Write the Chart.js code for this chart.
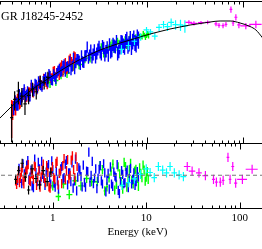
<!DOCTYPE html>
<html>
<head>
<meta charset="utf-8">
<title>IGR J18245-2452 spectrum</title>
<script src="https://cdn.jsdelivr.net/npm/chart.js@4.4.1/dist/chart.umd.min.js"></script>
<style>
  html, body { margin: 0; padding: 0; background: #fff; }
  #wrap { position: relative; width: 262px; height: 249px; overflow: hidden; }
  #specChart { position: absolute; left: -20px; top: 0; }
  #resChart { position: absolute; left: -20px; top: 142px; }
</style>
</head>
<body>
<div id="wrap">
  <canvas id="specChart" width="315" height="144"></canvas>
  <canvas id="resChart" width="315" height="107"></canvas>
</div>
<script>
// Spectrum of the source.
// Energies in keV, flux in arbitrary E^2 N(E) units, residuals in sigma.

var sourceName = "GR J18245-2452";
var xTickLabels = ["1", "10", "100"];

// best fit model (cutoff power law)
var modelE = [0.25, 0.303, 0.385, 0.489, 0.621, 0.788, 1.0, 1.27, 1.61, 2.04, 2.6, 3.3, 4.19, 5.32, 6.75, 8.57, 10.9, 13.8, 17.5, 22.2, 28.3, 35.9, 45.6, 57.9, 73.5, 93.3, 118.5, 136, 157, 175];
var modelF = [0.0173, 0.0225, 0.0311, 0.0417, 0.054, 0.0678, 0.0837, 0.1033, 0.1256, 0.150, 0.176, 0.204, 0.229, 0.256, 0.282, 0.311, 0.343, 0.372, 0.403, 0.430, 0.459, 0.482, 0.506, 0.523, 0.523, 0.490, 0.437, 0.391, 0.311, 0.255];

// black
var blackE = [0.40, 0.43, 0.47, 0.51, 0.55, 0.60, 0.66, 0.72, 0.79, 0.87, 0.95];
var blackF = [0.0228, 0.0411, 0.0540, 0.0458, 0.0355, 0.0470, 0.0574, 0.0527, 0.0746, 0.0706, 0.0841];
var blackErr = [0.55, 0.30, 0.35, 0.30, 0.30, 0.25, 0.22, 0.22, 0.20, 0.20, 0.20];
var blackRes = [-0.9, 1.0, 2.6, -0.4, -3.2, 1.4, -0.7, -2.1, 1.0, -1.4, 0.7];

// red
var redE = [0.40, 0.41, 0.42, 0.43, 0.44, 0.45, 0.46, 0.47, 0.48, 0.49, 0.50, 0.515, 0.53, 0.545, 0.56, 0.575, 0.59, 0.605, 0.62, 0.635, 0.65, 0.67, 0.69, 0.71, 0.73, 0.75, 0.77, 0.79, 0.81, 0.835, 0.86, 0.885, 0.91, 0.935, 0.96, 0.99, 1.02, 1.05, 1.08, 1.11, 1.14, 1.175, 1.21, 1.245, 1.28, 1.32, 1.36, 1.40, 1.44, 1.485, 1.53, 1.575, 1.62, 1.67, 1.72, 1.77, 1.82];
var redF = [0.0261, 0.0301, 0.0318, 0.0372, 0.0313, 0.0369, 0.0408, 0.0431, 0.0366, 0.0377, 0.0415, 0.0463, 0.0491, 0.0525, 0.0448, 0.0460, 0.0520, 0.0530, 0.0513, 0.0609, 0.0619, 0.0514, 0.0584, 0.0646, 0.0569, 0.0634, 0.0703, 0.0764, 0.0667, 0.0656, 0.0822, 0.0776, 0.0725, 0.0675, 0.0841, 0.0912, 0.0825, 0.0833, 0.1030, 0.1060, 0.0862, 0.0982, 0.1035, 0.0918, 0.1175, 0.1264, 0.1036, 0.1173, 0.1345, 0.1121, 0.1200, 0.1442, 0.1537, 0.1370, 0.1267, 0.1631, 0.1587];
var redErr = [0.55, 0.30, 0.24, 0.22, 0.22, 0.21, 0.20, 0.20, 0.19, 0.19, 0.18, 0.18, 0.18, 0.17, 0.17, 0.17, 0.16, 0.16, 0.16, 0.16, 0.16, 0.15, 0.15, 0.15, 0.15, 0.15, 0.15, 0.15, 0.15, 0.15, 0.15, 0.15, 0.15, 0.15, 0.15, 0.15, 0.15, 0.15, 0.15, 0.15, 0.15, 0.16, 0.16, 0.16, 0.16, 0.16, 0.17, 0.17, 0.17, 0.17, 0.18, 0.18, 0.18, 0.19, 0.19, 0.20, 0.20];
var redRes = [-1.2, -2.0, -0.7, 0.8, -1.6, -0.5, 0.7, 1.6, -1.2, -1.9, -0.4, 0.9, 1.2, 2.3, -1.1, -1.4, 0.4, 0.2, -0.9, 2.0, 1.8, -2.2, -0.4, 1.0, -2.6, -0.4, 1.1, 2.4, -0.7, -1.6, 2.1, 0.6, -2.5, -2.8, 0.7, 1.9, -0.5, -0.9, 2.6, 3.0, -2.1, 0.4, 0.9, -1.8, 2.1, 3.6, -0.9, 1.0, 3.4, -0.8, 0.0, 3.3, 4.2, 1.2, -0.5, 4.0, 1.9];

// blue
var blueE = [0.42, 0.435, 0.45, 0.465, 0.48, 0.495, 0.51, 0.525, 0.54, 0.555, 0.57, 0.585, 0.60, 0.62, 0.64, 0.66, 0.68, 0.70, 0.72, 0.74, 0.76, 0.78, 0.80, 0.825, 0.85, 0.875, 0.90, 0.925, 0.95, 0.975, 1.00, 1.03, 1.06, 1.09, 1.12, 1.15, 1.18, 1.215, 1.25, 1.285, 1.32, 1.36, 1.40, 1.44, 1.48, 1.52, 1.56, 1.605, 1.65, 1.70, 1.75, 1.80, 1.85, 1.90, 1.95, 2.005, 2.06, 2.12, 2.18, 2.24, 2.30, 2.365, 2.43, 2.50, 2.57, 2.645, 2.72, 2.80, 2.88, 2.965, 3.05, 3.135, 3.22, 3.31, 3.40, 3.50, 3.60, 3.70, 3.80, 3.91, 4.02, 4.135, 4.25, 4.375, 4.50, 4.625, 4.75, 4.885, 5.02, 5.16, 5.30, 5.45, 5.60, 5.76, 5.92, 6.085, 6.25, 6.425, 6.60, 6.79, 6.98, 7.18, 7.38, 7.59, 7.80, 8.025, 8.25];
var blueF = [0.0318, 0.0390, 0.0359, 0.0356, 0.0480, 0.0429, 0.0458, 0.0502, 0.0567, 0.0456, 0.0482, 0.0536, 0.0454, 0.0464, 0.0667, 0.0591, 0.0543, 0.0693, 0.0670, 0.0595, 0.0753, 0.0679, 0.0660, 0.0627, 0.0756, 0.0811, 0.0855, 0.0762, 0.0721, 0.0951, 0.0887, 0.0783, 0.0766, 0.0944, 0.0868, 0.0798, 0.0985, 0.1065, 0.1122, 0.1001, 0.1038, 0.1232, 0.1299, 0.1020, 0.1205, 0.1226, 0.1122, 0.1425, 0.1088, 0.1224, 0.1596, 0.1119, 0.1362, 0.1538, 0.1537, 0.1456, 0.1284, 0.1716, 0.1413, 0.1384, 0.1712, 0.1730, 0.2282, 0.1590, 0.1760, 0.2075, 0.1610, 0.1797, 0.2068, 0.1626, 0.1853, 0.2115, 0.2312, 0.1918, 0.1789, 0.2379, 0.2215, 0.1752, 0.2006, 0.2256, 0.1747, 0.2483, 0.1932, 0.2039, 0.2502, 0.2366, 0.2299, 0.2750, 0.1868, 0.2000, 0.2253, 0.2725, 0.2672, 0.2401, 0.2278, 0.2789, 0.3003, 0.2374, 0.2567, 0.3045, 0.2288, 0.2759, 0.3077, 0.2627, 0.2550, 0.3162, 0.2917];
var blueErr = [0.22, 0.21, 0.21, 0.20, 0.20, 0.20, 0.19, 0.19, 0.19, 0.18, 0.18, 0.18,
  0.17, 0.17, 0.17, 0.17, 0.16, 0.16, 0.16, 0.16, 0.16, 0.16, 0.16, 0.16, 0.16, 0.16, 0.16, 0.16, 0.16, 0.16, 0.16,
  0.16, 0.16, 0.16, 0.16, 0.16, 0.16, 0.16, 0.16, 0.16, 0.16, 0.16, 0.16, 0.16, 0.16, 0.16, 0.16, 0.17, 0.17, 0.17, 0.17, 0.17, 0.17, 0.17, 0.17,
  0.17, 0.17, 0.18, 0.18, 0.18, 0.18, 0.18, 0.18, 0.18, 0.18, 0.18, 0.18, 0.19, 0.19, 0.19, 0.19, 0.19, 0.19, 0.19, 0.19, 0.19, 0.20, 0.20, 0.20, 0.20,
  0.20, 0.20, 0.20, 0.21, 0.21, 0.21, 0.21, 0.21, 0.22, 0.22, 0.22, 0.22, 0.22, 0.23, 0.23,
  0.23, 0.23, 0.24, 0.24, 0.24, 0.24, 0.25, 0.25, 0.25, 0.26, 0.26, 0.27];
var blueRes = [-1.1, 1.5, -0.7, -1.8, 2.5, 0.3, 0.7, 2.2, 3.2, -0.9, -0.4, 1.1, -2.3, -2.7, 3.5, 0.6, -1.4, 2.8, 1.4, -1.3, 3.0, 0.2, -0.7, -2.2, 0.7, 1.7, 2.3, -0.5, -1.9, 3.1, 1.2, -1.7, -2.6, 0.9, -1.2, -3.0, 0.4, 1.4, 1.9, -0.8, -0.5, 2.4, 3.2, -2.1, 0.5, 0.5, -1.4, 2.7, -2.8, -1.2, 3.5, -3.4, -0.4, 1.6, 1.1, -0.3, -2.5, 2.2, -1.6, -2.6, 0.9, 0.8, 5.0, -1.5, 0.0, 3.0, -1.8, -0.6, 1.4, -2.9, -0.7, 1.3, 2.1, -1.2, -1.9, 2.5, 0.5, -3.6, -1.1, 0.4, -3.0, 1.8, -1.9, -2.4, 0.7, -0.2, -0.5, 2.3, -3.3, -4.0, -1.4, 1.0, 0.2, -1.8, -1.6, 0.6, 1.1, -2.7, -0.7, 1.5, -1.9, -0.9, 0.5, -2.2, -1.4, 0.8, -0.4];

// green
var greenE = [1.0, 1.15, 1.3, 1.5, 1.75, 2.0, 2.3, 2.6, 3.0, 3.2, 3.4, 3.6, 3.8, 4.0, 4.2, 4.4, 4.6, 4.8, 5.0, 5.2, 5.4, 5.6, 5.8, 6.0, 6.2, 6.4, 6.6, 6.8, 7.0, 7.25, 7.5, 7.75, 8.0, 8.25, 8.5, 8.75, 9.0, 9.25, 9.5, 9.75, 10.0, 10.25, 10.5];
var greenF = [0.0711, 0.0759, 0.0930, 0.0968, 0.1224, 0.1273, 0.1549, 0.1584, 0.174, 0.2173, 0.225, 0.1840, 0.185, 0.2181, 0.240, 0.2565, 0.210, 0.2245, 0.274, 0.2565, 0.237, 0.2306, 0.266, 0.2900, 0.235, 0.2672, 0.296, 0.3124, 0.273, 0.2689, 0.307, 0.3151, 0.295, 0.2780, 0.320, 0.3190, 0.311, 0.3492, 0.332, 0.3114, 0.332, 0.3462, 0.329];
var greenErr = [0.16, 0.16, 0.15, 0.15, 0.15, 0.14, 0.14, 0.14, 0.14, 0.13, 0.13, 0.13, 0.13, 0.12, 0.12, 0.12, 0.12, 0.12, 0.11, 0.11, 0.11, 0.11, 0.10, 0.10, 0.10, 0.10, 0.09, 0.09, 0.09, 0.09, 0.08, 0.08, 0.08, 0.08, 0.08, 0.08, 0.08, 0.08, 0.08, 0.09, 0.09, 0.09, 0.10];
var greenRes = [-2.3, -4.6, -1.9, -4.2, -1.2, -2.3, -0.7, -1.4, -1.4, 2.1, 1.2, -3.4, -2.5, -0.6, 0.9, 2.4, -3.2, -2.0, 1.8, 0.3, -1.4, -3.0, 2.8, 1.9, -2.6, -0.8, 1.2, 2.6, -1.1, -1.9, 0.9, 1.3, -0.7, -2.4, 1.6, 0.4, -0.5, 2.2, 1.1, -1.3, -0.4, 0.8, -0.9];

// cyan
var cyanE = [5.5, 6.5, 7.5, 8.7, 10.0, 11.0, 12.2, 13.5, 15.0, 16.5, 18.0, 20.0, 22.5, 25.0];
var cyanHalf = [0.35, 0.4, 0.5, 0.6, 0.7, 0.75, 0.85, 0.95, 1.05, 1.15, 1.25, 1.4, 1.6, 1.8];
var cyanF = [0.208, 0.236, 0.271, 0.313, 0.392, 0.368, 0.321, 0.426, 0.467, 0.436, 0.499, 0.464, 0.462, 0.445];
var cyanErr = [0.15, 0.14, 0.12, 0.12, 0.10, 0.10, 0.11, 0.11, 0.12, 0.13, 0.14, 0.15, 0.18, 0.20];
var cyanRes = [-2.2, -1.6, -0.8, 0.2, 1.4, 0.6, -0.5, 1.9, 1.1, 0.5, 1.9, 0.5, 0.1, -0.3];

// magenta
var magE = [27.5, 31, 36.7, 43, 52.5, 56.4, 62.1, 66.6, 75, 79, 84.4, 90.7, 107, 136];
var magHalf = [2.2, 2.5, 2.6, 3.0, 2.0, 2.0, 2.2, 2.2, 2.5, 2.5, 3.0, 3.5, 13, 20];
var magF = [0.50, 0.485, 0.495, 0.50, 0.475, 0.455, 0.45, 0.47, 0.76, 0.49, 0.59, 0.46, 0.445, 0.47];
var magErr = [0.07, 0.07, 0.06, 0.06, 0.07, 0.08, 0.08, 0.08, 0.10, 0.09, 0.10, 0.10, 0.10, 0.12];
var magRes = [1.9, 0.9, 0.5, -0.1, -0.9, -1.5, -1.5, -1.1, 3.9, -0.9, 1.9, -1.7, -0.9, 1.3];

// axis ranges (the frame is wider than the cropped picture)
var xMin = 0.188, xMax = 346;
var fluxMin = 0.01, fluxMax = 1;
var resMin = -7, resMax = 7;

// top/bottom: drawing order in each panel (lower is drawn on top)
var series = [
  { E: blackE, F: blackF, err: blackErr, res: blackRes, half: null, color: '#000000', top: 3, bottom: 3, w: 1.2 },
  { E: redE, F: redF, err: redErr, res: redRes, half: null, color: '#ff0000', top: 5, bottom: 4, w: 1.4 },
  { E: blueE, F: blueF, err: blueErr, res: blueRes, half: null, color: '#0000ff', top: 4, bottom: 5, w: 1.4 },
  { E: greenE, F: greenF, err: greenErr, res: greenRes, half: null, color: '#00ff00', top: 6, bottom: 6, w: 1.4 },
  { E: cyanE, F: cyanF, err: cyanErr, res: cyanRes, half: cyanHalf, color: '#00ffff', top: 2, bottom: 2, w: 1.2 },
  { E: magE, F: magF, err: magErr, res: magRes, half: magHalf, color: '#ff00ff', top: 1, bottom: 1, w: 1.2 }
];

function isDecade(v) {
  var l = Math.log10(v);
  return Math.abs(l - Math.round(l)) < 1e-6;
}

// channel edges: explicit half widths, or half way to the neighbours
function binEdges(E, half) {
  return E.map(function(e, i) {
    if (half) return [e - half[i], e + half[i]];
    var lo = i > 0 ? Math.sqrt(E[i - 1] * e) : e * Math.sqrt(e / E[i + 1]);
    var hi = i < E.length - 1 ? Math.sqrt(e * E[i + 1]) : e * Math.sqrt(e / E[i - 1]);
    return [lo, hi];
  });
}

// one cross per point, broken apart by null points
function crosses(E, edges, y, yLo, yHi) {
  var pts = [];
  for (var i = 0; i < E.length; i++) {
    pts.push({ x: edges[i][0], y: y[i] }, { x: edges[i][1], y: y[i] }, { x: E[i], y: null });
    pts.push({ x: E[i], y: yLo[i] }, { x: E[i], y: yHi[i] }, { x: E[i], y: null });
  }
  return pts;
}

function errSet(data, color, order, width) {
  return {
    data: data, showLine: true, spanGaps: false, borderColor: color,
    borderWidth: width, pointRadius: 0, tension: 0, order: order
  };
}

var specSets = [{
  data: modelE.map(function(e, i) { return { x: e, y: modelF[i] }; }),
  showLine: true, borderColor: '#000', borderWidth: 1, pointRadius: 0,
  cubicInterpolationMode: 'monotone', order: 0
}];
var resSets = [{
  data: [{ x: xMin, y: 0 }, { x: xMax, y: 0 }],
  showLine: true, borderColor: '#777', borderWidth: 1.2, pointRadius: 0,
  borderDash: [4, 3], borderDashOffset: 5, order: 0
}];

series.forEach(function(s) {
  var edges = binEdges(s.E, s.half);
  var lo = s.F.map(function(f, i) { return f * (1 - s.err[i]); });
  var hi = s.F.map(function(f, i) { return f * (1 + s.err[i]); });
  specSets.push(errSet(crosses(s.E, edges, s.F, lo, hi), s.color, s.top, s.w));
  var rlo = s.res.map(function(r) { return r - 1; });
  var rhi = s.res.map(function(r) { return r + 1; });
  resSets.push(errSet(crosses(s.E, edges, s.res, rlo, rhi), s.color, s.bottom, s.w));
});

// box with inward ticks on top and bottom edges
var frameTicks = {
  id: 'frameTicks',
  afterDraw: function(chart) {
    var ctx = chart.ctx, a = chart.chartArea, x = chart.scales.x;
    var top = Math.round(a.top) + 0.5, bot = Math.round(a.bottom) + 0.5;
    ctx.save();
    ctx.strokeStyle = '#000';
    ctx.lineWidth = 1;
    ctx.beginPath();
    ctx.moveTo(a.left, top); ctx.lineTo(a.right, top);
    ctx.moveTo(a.left, bot); ctx.lineTo(a.right, bot);
    x.ticks.forEach(function(t) {
      var m = t.value / Math.pow(10, Math.floor(Math.log10(t.value) + 1e-9));
      if (Math.abs(m - Math.round(m)) > 1e-6) return;
      var px = Math.round(x.getPixelForValue(t.value)) + 0.5;
      var len = isDecade(t.value) ? 6 : 3;
      ctx.moveTo(px, top); ctx.lineTo(px, top + len);
      ctx.moveTo(px, bot); ctx.lineTo(px, bot - len);
    });
    ctx.stroke();
    ctx.restore();
  }
};

var sourceLabel = {
  id: 'sourceLabel',
  afterDraw: function(chart) {
    var ctx = chart.ctx;
    ctx.save();
    ctx.font = '12px "Liberation Serif"';
    ctx.fillStyle = '#000';
    ctx.textBaseline = 'alphabetic';
    ctx.fillText(sourceName, 21, 19.5);
    ctx.restore();
  }
};

var serif = { family: 'Liberation Serif', size: 11, lineHeight: 1 };

// Spectrum panel
new Chart(document.getElementById('specChart'), {
  type: 'scatter',
  data: { datasets: specSets },
  options: {
    responsive: false, animation: false, devicePixelRatio: 1, events: [],
    layout: { padding: { top: 1, bottom: 1, left: 0, right: 0 } },
    plugins: { legend: { display: false }, tooltip: { enabled: false } },
    scales: {
      x: { type: 'logarithmic', min: xMin, max: xMax, display: false, ticks: { autoSkip: false } },
      y: { type: 'logarithmic', min: fluxMin, max: fluxMax, display: false }
    }
  },
  plugins: [frameTicks, sourceLabel]
});

// Residual panel with the energy axis
new Chart(document.getElementById('resChart'), {
  type: 'scatter',
  data: { datasets: resSets },
  options: {
    responsive: false, animation: false, devicePixelRatio: 1, events: [],
    layout: { padding: { top: 1, bottom: 4, left: 0, right: 0 } },
    plugins: { legend: { display: false }, tooltip: { enabled: false } },
    scales: {
      x: {
        type: 'logarithmic', min: xMin, max: xMax,
        grid: { display: false, drawTicks: false },
        border: { display: false },
        ticks: {
          autoSkip: false, maxRotation: 0, padding: 5, color: '#000', font: serif,
          callback: function(v) {
            if (!isDecade(v)) return '';
            var lab = String(Math.round(v));
            return xTickLabels.indexOf(lab) >= 0 ? lab : '';
          }
        },
        title: { display: true, text: 'Energy (keV)', color: '#000', font: serif, padding: { top: -2, bottom: 7.5 } }
      },
      y: { type: 'linear', min: resMin, max: resMax, display: false }
    }
  },
  plugins: [frameTicks]
});
</script>
</body>
</html>
